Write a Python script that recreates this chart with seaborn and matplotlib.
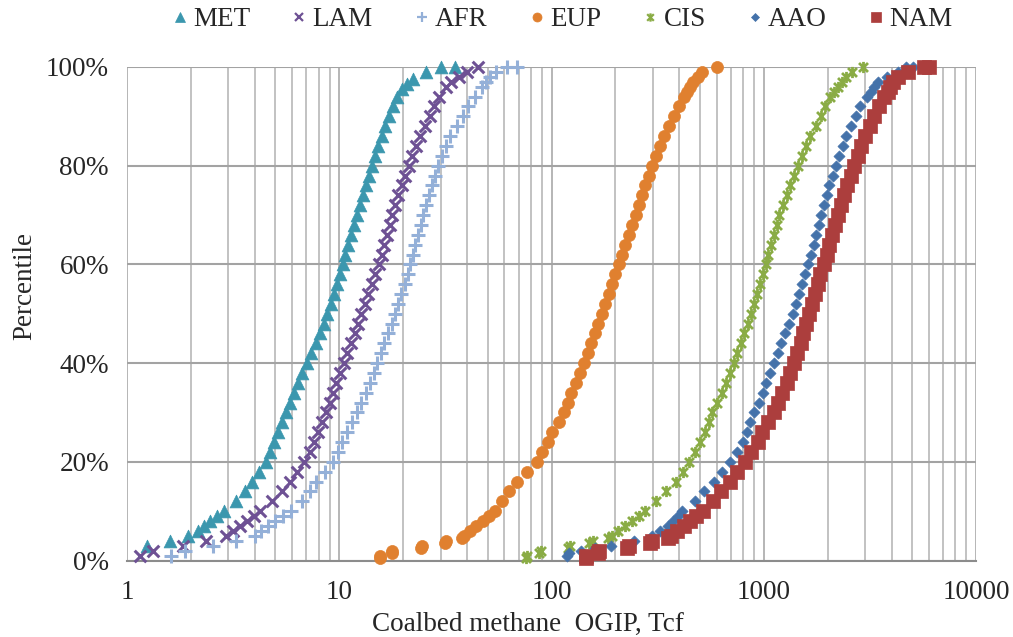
import matplotlib
matplotlib.use("Agg")
import matplotlib.pyplot as plt
import matplotlib.ticker as mticker
from matplotlib.path import Path
from matplotlib.lines import Line2D
import seaborn as sns
import pandas as pd

# ---------------- data ----------------
series_names = ["MET", "LAM", "AFR", "EUP", "CIS", "AAO", "NAM"]

met_pct = [3, 4, 5, 6, 7, 8, 9, 10, 12, 14, 16, 18, 20, 22, 24, 26, 28, 30, 32, 34, 36, 38, 40,
           42, 44, 46, 48, 50, 52, 54, 56, 58, 60, 62, 64, 66, 68, 70, 72, 74, 76, 78, 80, 82,
           84, 86, 88, 90, 92, 94, 95.5, 96.5, 97.5, 99, 100, 100]
met_val = [1.24, 1.59, 1.94, 2.15, 2.3, 2.45, 2.65, 2.85, 3.25, 3.6, 3.9, 4.2, 4.5, 4.72, 4.95,
           5.15, 5.4, 5.62, 5.85, 6.1, 6.4, 6.7, 7.05, 7.4, 7.75, 8.1, 8.45, 8.8, 9.1, 9.4, 9.75,
           10.1, 10.4, 10.7, 11.05, 11.4, 11.75, 12.1, 12.5, 12.9, 13.3, 13.8, 14.3, 14.8, 15.3,
           15.9, 16.5, 17.1, 17.9, 18.8, 19.8, 20.8, 22.3, 25.7, 30.2, 35.2]

lam_pct = [1, 2, 3, 4, 5, 6, 7, 8, 9, 10, 12, 14, 16, 18, 20, 22, 24, 26, 28, 30, 32, 34, 36, 38,
           40, 42, 44, 46, 48, 50, 52, 54, 56, 58, 60, 62, 64, 66, 68, 70, 72, 74, 76, 78, 80,
           82, 84, 86, 88, 90, 92, 94, 96, 97, 98, 99, 100]
lam_val = [1.15, 1.32, 1.83, 2.36, 2.92, 3.15, 3.4, 3.68, 3.95, 4.23, 4.8, 5.35, 5.85, 6.35, 6.8,
           7.25, 7.6, 7.95, 8.3, 8.65, 9.0, 9.35, 9.7, 10.1, 10.5, 10.9, 11.3, 11.8, 12.2, 12.7,
           13.2, 13.7, 14.2, 14.8, 15.4, 15.9, 16.3, 16.8, 17.3, 17.8, 18.4, 19.0, 19.7, 20.4,
           21.2, 22.1, 23.0, 24.0, 25.3, 26.7, 28.0, 29.6, 31.8, 33.5, 36.5, 40.0, 45.0]

afr_pct = [1, 2, 3, 4, 5, 6, 7, 8, 9, 10, 12, 14, 16, 18, 20, 22, 24, 26, 28, 30, 32, 34, 36, 38,
           40, 42, 44, 46, 48, 50, 52, 54, 56, 58, 60, 62, 64, 66, 68, 70, 72, 74, 76, 78, 80,
           82, 84, 86, 88, 90, 92, 94, 96, 97, 98, 99, 100, 100]
afr_val = [1.62, 1.87, 2.54, 3.27, 4.0, 4.3, 4.6, 5.0, 5.45, 5.9, 6.7, 7.3, 7.8, 8.6, 9.35, 9.9,
           10.3, 10.9, 11.5, 12.1, 12.7, 13.3, 13.9, 14.5, 15.1, 15.7, 16.3, 17.0, 17.7, 18.4,
           19.0, 19.6, 20.3, 21.0, 21.6, 22.2, 22.8, 23.5, 24.2, 24.9, 25.7, 26.5, 27.4, 28.3,
           29.3, 30.5, 31.9, 33.4, 35.8, 38.4, 40.5, 43.5, 47.0, 49.0, 51.5, 55.0, 61.5, 69.0]

eup_pct = [0.5, 1, 1.5, 2, 2.5, 3, 3.5, 4, 4.5, 5, 6, 7, 8, 9, 10, 12, 14, 16, 18, 20, 22, 24,
           26, 28, 30, 32, 34, 36, 38, 40, 42, 44, 46, 48, 50, 52, 54, 56, 58, 60, 62, 64, 66,
           68, 70, 72, 74, 76, 78, 80, 82, 84, 86, 88, 90, 92, 94, 95, 96, 97, 98, 99, 100]
eup_val = [15.6, 15.6, 17.7, 17.7, 24.3, 24.5, 31.5, 31.7, 38.0, 38.5, 41.5, 44.0, 47.5, 50.5,
           54.0, 58.5, 63.0, 69.0, 77.0, 85.0, 90.0, 96.0, 101, 108, 114, 119, 124, 130, 136,
           142, 148, 154, 160, 166, 173, 179, 186, 193, 200, 207, 215, 223, 231, 240, 249, 258,
           267, 277, 287, 298, 311, 325, 340, 358, 378, 398, 420, 437, 450, 465, 490, 510, 605]

cis_pct = [0.5, 1, 1.5, 2, 2.5, 3, 3.5, 4, 4.5, 5, 6, 7, 8, 9, 10, 12, 14, 16, 18, 20, 22, 24,
           26, 28, 30, 32, 34, 36, 38, 40, 42, 44, 46, 48, 50, 52, 54, 56, 58, 60, 62, 64, 66,
           68, 70, 72, 74, 76, 78, 80, 82, 84, 86, 88, 90, 92, 94, 95, 96, 97, 98, 99, 100]
cis_val = [76, 77, 87, 89, 120, 122, 150, 157, 185, 193, 205, 222, 240, 258, 276, 310, 348, 385,
           415, 445, 475, 502, 527, 550, 573, 603, 633, 663, 694, 725, 752, 780, 810, 840, 869,
           898, 927, 957, 988, 1020, 1050, 1080, 1115, 1150, 1183, 1230, 1280, 1330, 1385, 1444,
           1510, 1580, 1660, 1760, 1860, 1950, 2060, 2150, 2230, 2330, 2430, 2600, 2930]

aao_pct = [1, 1.5, 2, 2.5, 3, 4, 5, 6, 7, 8, 9, 10, 12, 14, 16, 18, 20, 22, 24, 26, 28, 30, 32,
           34, 36, 38, 40, 42, 44, 46, 48, 50, 52, 54, 56, 58, 60, 62, 64, 66, 68, 70, 72, 74,
           76, 78, 80, 82, 84, 86, 88, 90, 92, 94, 95, 96, 97, 98, 99, 100, 100]
aao_val = [118, 121, 137, 160, 190, 244, 299, 325, 352, 375, 395, 410, 475, 525, 580, 635, 695,
           745, 795, 830, 865, 902, 945, 990, 1030, 1075, 1120, 1165, 1210, 1260, 1315, 1368,
           1415, 1465, 1515, 1565, 1620, 1670, 1720, 1770, 1815, 1860, 1920, 1980, 2040, 2110,
           2190, 2270, 2350, 2440, 2580, 2725, 2850, 3050, 3205, 3320, 3440, 3800, 4300, 4700,
           5040]

nam_pct = [0.5, 1, 1.5, 2, 2.5, 3, 3.5, 4, 4.5, 5, 6, 7, 8, 9, 10, 12, 14, 16, 18, 20, 22, 24,
           26, 28, 30, 32, 34, 36, 38, 40, 42, 44, 46, 48, 50, 52, 54, 56, 58, 60, 62, 64, 66,
           68, 70, 72, 74, 76, 78, 80, 82, 84, 86, 88, 90, 92, 94, 95, 96, 97, 98, 99, 100, 100]
nam_val = [145, 146, 165, 168, 228, 232, 292, 298, 355, 365, 392, 420, 450, 478, 515, 575, 628,
           690, 750, 820, 870, 935, 985, 1050, 1120, 1170, 1220, 1280, 1335, 1393, 1440, 1490,
           1535, 1585, 1638, 1690, 1745, 1800, 1850, 1920, 1980, 2040, 2100, 2160, 2230, 2310,
           2390, 2480, 2570, 2672, 2770, 2880, 3000, 3150, 3320, 3480, 3700, 3845, 3950, 4080,
           4300, 4775, 5700, 6000]

y_ticks = [0, 20, 40, 60, 80, 100]
x_ticks = [1, 10, 100, 1000, 10000]
x_label = "Coalbed methane  OGIP, Tcf"
y_label = "Percentile"

# ---------------- style ----------------
sns.set_style("white")
plt.rcParams["font.family"] = ["Liberation Serif", "DejaVu Serif"]

colors = {"MET": "#3b97ae", "LAM": "#6e5194", "AFR": "#94b0d8", "EUP": "#e0802f",
          "CIS": "#8aac45", "AAO": "#4472aa", "NAM": "#ac3e3d"}

star = Path([(-1, -1), (1, 1), (-1, 1), (1, -1), (0, -1.25), (0, 1.25)],
            [Path.MOVETO, Path.LINETO, Path.MOVETO, Path.LINETO, Path.MOVETO, Path.LINETO])

styles = {
    "MET": dict(marker="^", s=85, linewidth=0.5),
    "LAM": dict(marker="x", s=70, linewidth=2.2),
    "AFR": dict(marker="+", s=90, linewidth=2.2),
    "EUP": dict(marker="o", s=75, linewidth=0.5),
    "CIS": dict(marker=star, s=65, linewidth=2.0),
    "AAO": dict(marker="D", s=32, linewidth=0.5),
    "NAM": dict(marker="s", s=100, linewidth=0.5),
}

data = {
    "MET": (met_val, met_pct), "LAM": (lam_val, lam_pct), "AFR": (afr_val, afr_pct),
    "EUP": (eup_val, eup_pct), "CIS": (cis_val, cis_pct), "AAO": (aao_val, aao_pct),
    "NAM": (nam_val, nam_pct),
}

fig = plt.figure(figsize=(10.13, 6.37), dpi=100)
ax = fig.add_axes([127 / 1013, 1 - 560.5 / 637, (976 - 127) / 1013, (560.5 - 67) / 637])

for name in series_names:
    xv, yv = data[name]
    df = pd.DataFrame({"x": xv, "y": yv})
    st = styles[name]
    sns.scatterplot(data=df, x="x", y="y", ax=ax, color=colors[name], marker=st["marker"],
                    s=st["s"], linewidth=st["linewidth"], edgecolor=colors[name],
                    clip_on=False, zorder=3, legend=False)

ax.set_xscale("log")
ax.set_xlim(1, 10000)
ax.set_ylim(0, 100)
ax.set_xticks(x_ticks)
ax.xaxis.set_major_formatter(mticker.FuncFormatter(lambda v, p: f"{v:g}"))
ax.xaxis.set_minor_locator(mticker.LogLocator(base=10, subs=range(2, 10)))
ax.xaxis.set_minor_formatter(mticker.NullFormatter())
ax.set_yticks(y_ticks)
ax.yaxis.set_major_formatter(mticker.FuncFormatter(lambda v, p: f"{v:.0f}%"))

ax.grid(True, which="major", axis="x", color="#b5b5b5", linewidth=1.4, zorder=0)
ax.grid(True, which="minor", axis="x", color="#bdbdbd", linewidth=1.3, zorder=0)
ax.grid(True, which="major", axis="y", color="#a3a3a3", linewidth=1.5, zorder=0)
ax.set_axisbelow(True)

for side in ["top", "right", "left"]:
    ax.spines[side].set_visible(False)
ax.spines["bottom"].set_color("#8c8c8c")
ax.spines["bottom"].set_linewidth(1.5)

ax.tick_params(axis="x", which="major", length=5, width=1.3, color="#8c8c8c",
               labelsize=19.5, pad=9, direction="out")
ax.tick_params(axis="x", which="minor", length=0)
ax.tick_params(axis="y", length=0, labelsize=19.5, pad=13)

ax.set_xlabel(x_label, fontsize=19.5)
ax.xaxis.set_label_coords((527.5 - 127) / 849, (560.5 - 624) / 493.5)
ax.xaxis.label.set_va("center")
ax.set_ylabel(y_label, fontsize=19.5)
ax.yaxis.set_label_coords((25 - 127) / 849, (560.5 - 286) / 493.5)
ax.yaxis.label.set_va("center")

handles = []
leg_sizes = {"MET": 6.5, "LAM": 6, "AFR": 7, "EUP": 6.5, "CIS": 6, "AAO": 4.5, "NAM": 7}
for name in series_names:
    st = styles[name]
    handles.append(Line2D([], [], linestyle="none", marker=st["marker"], color=colors[name],
                          markerfacecolor=colors[name], markeredgecolor=colors[name],
                          markersize=leg_sizes[name],
                          markeredgewidth=1.6 if name in ("LAM", "AFR", "CIS") else 0.5))
fig.legend(handles, series_names, loc="center", bbox_to_anchor=(562 / 1013, 1 - 20 / 637),
           ncol=7, frameon=False, fontsize=19.5, handlelength=0.6, handletextpad=0.2,
           columnspacing=1.5, borderaxespad=0, borderpad=0)

fig.savefig("out.png", dpi=100)
